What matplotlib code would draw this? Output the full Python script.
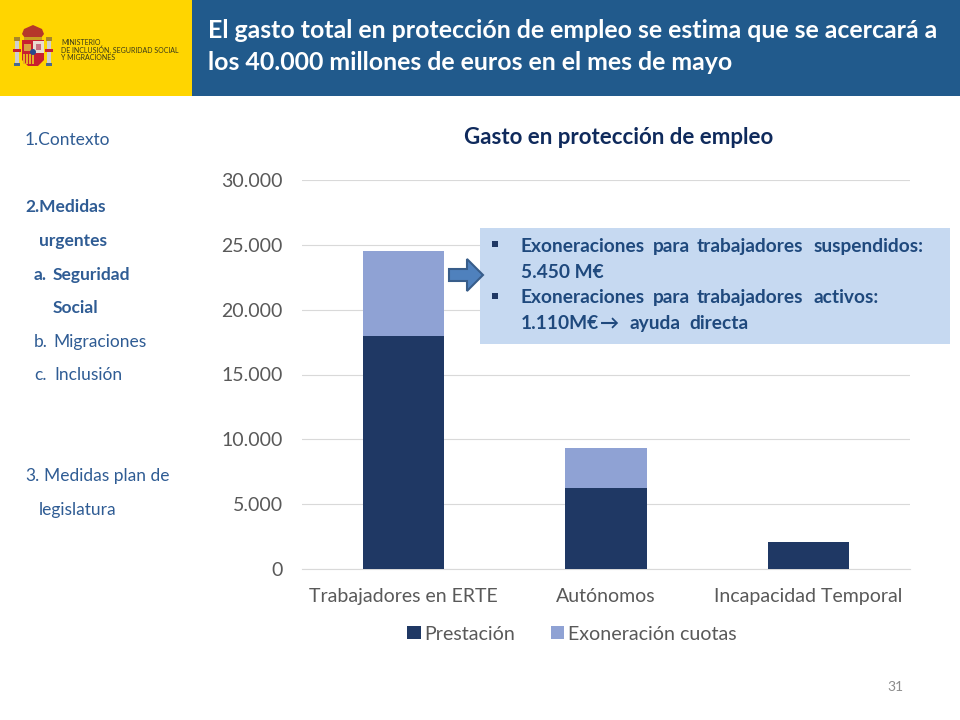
import matplotlib
matplotlib.use('Agg')
import matplotlib.pyplot as plt
from matplotlib.patches import Rectangle, Polygon, Circle
from matplotlib.ticker import FuncFormatter

plt.rcParams['font.family'] = ['Lato', 'DejaVu Sans']

categories = ['Trabajadores en ERTE', 'Autónomos', 'Incapacidad Temporal']
prestacion = [17970, 6250, 2080]
exoneracion = [6550, 3080, 0]
y_ticks = [0, 5000, 10000, 15000, 20000, 25000, 30000]

title_lines = ['El gasto total en protección de empleo se estima que se acercará a',
               'los 40.000 millones de euros en el mes de mayo']
ministry_lines = ['MINISTERIO', 'DE INCLUSIÓN, SEGURIDAD SOCIAL', 'Y MIGRACIONES']

# x, baseline y, text, bold
menu = [(25, 145, '1.Contexto', False),
        (25, 212, '2.Medidas', True),
        (39, 246, 'urgentes', True),
        (34, 280, 'a.', True),
        (53, 280, 'Seguridad', True),
        (53, 313, 'Social', True),
        (34, 347, 'b.', False),
        (53, 347, 'Migraciones', False),
        (34, 380, 'c.', False),
        (54, 380, 'Inclusión', False),
        (25, 481, '3.', False),
        (44, 481, 'Medidas plan de', False),
        (39, 515, 'legislatura', False)]

# callout text, word by word because the original is justified
callout = [(521, 252, 'Exoneraciones'), (653, 252, 'para'), (697, 252, 'trabajadores'), (814, 252, 'suspendidos:'),
           (521, 278, '5.450 M€'),
           (521, 303, 'Exoneraciones'), (653, 303, 'para'), (697, 303, 'trabajadores'), (814, 303, 'activos:'),
           (521, 329, '1.110M€'), (600, 329, '→'), (629, 329, 'ayuda'), (689, 329, 'directa')]

NAVY = '#1F3864'
LIGHT = '#8FA2D4'
MENU_COL = '#2F5C94'
W, H = 960, 720

fig = plt.figure(figsize=(9.6, 7.2), dpi=100)

# chart
ax = fig.add_axes([302 / W, 1 - 569 / H, 608 / W, 389 / H])
x = range(len(categories))
ax.bar(x, prestacion, width=0.4, color=NAVY, label='Prestación', zorder=3)
ax.bar(x, exoneracion, width=0.4, bottom=prestacion, color=LIGHT, label='Exoneración cuotas', zorder=3)
ax.set_xlim(-0.5, 2.5)
ax.set_ylim(0, 30000)
ax.set_xticks(list(x))
ax.set_xticklabels(categories)
ax.set_yticks(y_ticks)
ax.yaxis.set_major_formatter(FuncFormatter(lambda v, pos: f'{v:,.0f}'.replace(',', '.')))
ax.yaxis.grid(True, color='#D9D9D9', linewidth=0.8, zorder=0)
ax.tick_params(axis='both', length=0, labelcolor='#595959')
ax.tick_params(axis='y', labelsize=14, pad=14)
ax.tick_params(axis='x', labelsize=14, pad=14)
for s in ['top', 'left', 'right']:
    ax.spines[s].set_visible(False)
ax.spines['bottom'].set_color('#D9D9D9')
fig.legend(loc='center', bbox_to_anchor=(572 / W, 1 - 634 / H), ncol=2, frameon=False, fontsize=14.1,
           labelcolor='#595959', handlelength=0.68, handleheight=0.68, columnspacing=1.8, handletextpad=0.2)

# overlay in pixel coordinates for the slide furniture
ov = fig.add_axes([0, 0, 1, 1], zorder=5)
ov.set_xlim(0, W)
ov.set_ylim(H, 0)
ov.axis('off')

ov.add_patch(Rectangle((0, 0), 192, 96, color='#FFD500', lw=0))
ov.add_patch(Rectangle((192, 0), 768, 96, color='#215A8C', lw=0))
ov.text(208, 31, title_lines[0], color='white', fontsize=17.95, fontweight='bold', va='center')
ov.text(208, 63, title_lines[1], color='white', fontsize=17.95, fontweight='bold', va='center')

# rough crest
ov.add_patch(Polygon([(22, 40), (44, 40), (44, 60), (38, 66), (28, 66), (22, 60)], color='#C8202F', lw=0))
ov.add_patch(Rectangle((33, 41), 11, 12, color='#E8DCD0', lw=0))
ov.add_patch(Rectangle((36, 44), 5, 6, color='#C87080', lw=0))
ov.add_patch(Rectangle((24, 44), 7, 7, color='#D9A040', lw=0))
for sx in (23, 26, 29, 32):
    ov.add_patch(Rectangle((sx, 54), 1.5, 10, color='#E8B020', lw=0))
ov.add_patch(Circle((33, 52), 3, color='#2A4A8C', lw=0))
ov.add_patch(Polygon([(22, 34), (24, 29), (33, 25), (42, 29), (44, 34), (41, 38), (25, 38)], color='#B5382A', lw=0))
ov.add_patch(Rectangle((24, 37), 18, 2.5, color='#C8A020', lw=0))
for cx in (16.5, 48.5):
    ov.add_patch(Rectangle((cx - 2, 40), 4, 24, color='#CFCFCF', lw=0))
    ov.add_patch(Rectangle((cx - 3, 37), 6, 4, color='#A8862A', lw=0))
    ov.add_patch(Rectangle((cx - 3, 63), 6, 3, color='#4A6A8C', lw=0))
    ov.add_patch(Rectangle((cx - 4, 49), 8, 3, color='#C8202F', lw=0))
for yy, line in zip([42.5, 50, 58], ministry_lines):
    ov.text(61, yy, line, color='#3A3A1A', fontsize=5.05, va='center')

for px, py, txt, bold in menu:
    ov.text(px, py, txt, color=MENU_COL, fontsize=12.5, va='baseline', fontweight='bold' if bold else 'normal')

ov.text(619, 138, 'Gasto en protección de empleo', color='#0F2A5C', fontsize=16, fontweight='bold',
        ha='center', va='center')

# callout box and arrow
ov.add_patch(Rectangle((480, 228), 470, 116, color='#C6D9F1', lw=0))
ov.add_patch(Polygon([(449, 269), (467, 269), (467, 259), (483, 275), (467, 291), (467, 281), (449, 281)],
                     facecolor='#4F81BD', edgecolor='#385D8A', linewidth=1.5))
for by in (244.5, 296):
    ov.add_patch(Rectangle((492, by - 3.5), 6, 6, color='#1F3864', lw=0))
for px, py, txt in callout:
    ov.text(px, py, txt, color='#1F497D', fontsize=13.8, fontweight='bold', va='baseline')

ov.text(895, 687, '31', color='#8C8C8C', fontsize=10, ha='center', va='center')

fig.savefig('out.png', dpi=100)
